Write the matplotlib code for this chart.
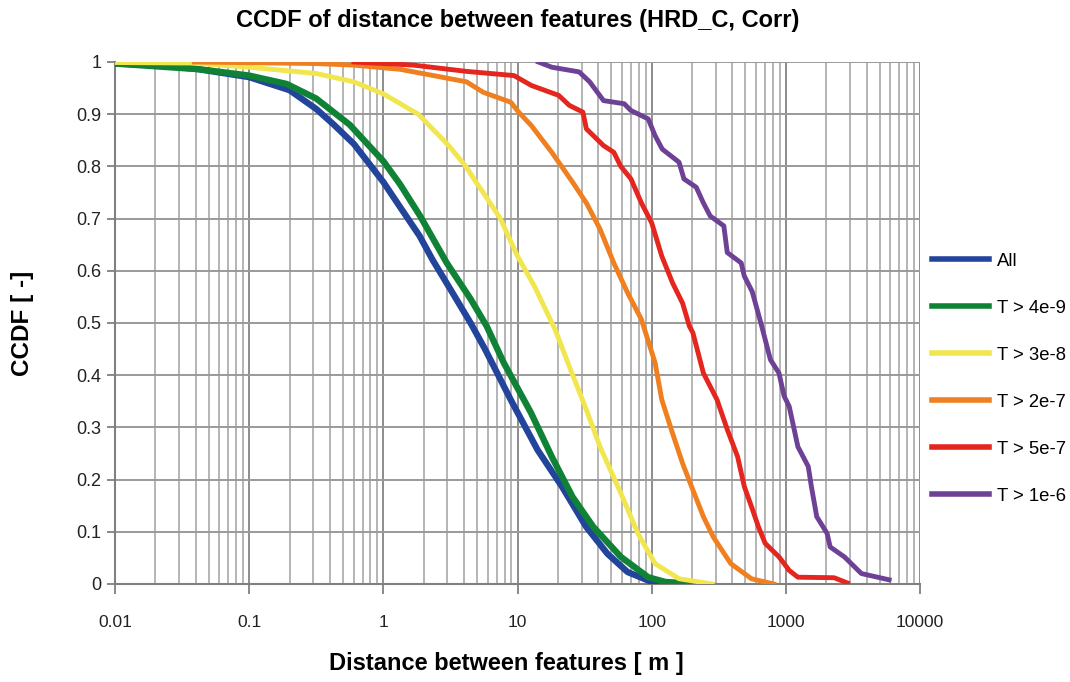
import matplotlib
matplotlib.use("Agg")
import matplotlib.pyplot as plt
from matplotlib.ticker import FixedLocator, LogLocator, FuncFormatter, NullFormatter

plt.rcParams['font.family'] = ['Liberation Sans', 'DejaVu Sans']

# distance [m] / CCDF pairs for each transmissivity threshold
all_d = [0.01, 0.02, 0.04, 0.1, 0.2, 0.316, 0.427, 0.603, 1.0, 1.35, 1.86, 2.34, 3.24,
         4.47, 5.75, 8.9, 14.1, 21.4, 32.4, 46.8, 66.1, 100, 200]
all_p = [0.997, 0.994, 0.987, 0.971, 0.946, 0.91, 0.88, 0.843, 0.77, 0.72, 0.667, 0.62, 0.56,
         0.50, 0.449, 0.353, 0.257, 0.187, 0.11, 0.058, 0.023, 0.004, 0.0]

t4e9_d = [0.01, 0.043, 0.1, 0.19, 0.316, 0.56, 1.0, 1.33, 1.88, 2.97, 4.47, 5.89, 7.89,
          12.6, 18.0, 25.7, 36.6, 58.9, 94.2, 126, 209]
t4e9_p = [0.997, 0.986, 0.974, 0.958, 0.93, 0.88, 0.81, 0.766, 0.705, 0.615, 0.546, 0.494, 0.424,
          0.328, 0.244, 0.167, 0.11, 0.052, 0.013, 0.004, 0.0]

t3e8_d = [0.01, 0.038, 0.1, 0.316, 0.603, 1.0, 1.82, 3.07, 4.12, 4.9, 5.55, 7.45, 10, 13.4,
          19.1, 24.3, 32.6, 41.2, 58.9, 78.9, 106, 160, 282]
t3e8_p = [0.999, 0.998, 0.99, 0.978, 0.962, 0.939, 0.90, 0.84, 0.80, 0.77, 0.75, 0.70, 0.628, 0.57,
          0.487, 0.417, 0.334, 0.263, 0.174, 0.097, 0.039, 0.01, 0.0]

t2e7_d = [0.039, 0.316, 0.603, 1.33, 2.36, 4.17, 5.55, 8.9, 10.2, 12.7, 18.0, 25.7, 32.6, 41.2,
          52.2, 66.1, 83.8, 106, 119, 143, 170, 203, 243, 288, 389, 555, 813]
t2e7_p = [1.0, 0.997, 0.994, 0.986, 0.974, 0.962, 0.942, 0.923, 0.904, 0.878, 0.827, 0.77, 0.73, 0.68,
          0.615, 0.558, 0.507, 0.424, 0.353, 0.289, 0.231, 0.18, 0.129, 0.09, 0.039, 0.01, 0.0]

t5e7_d = [0.603, 1.68, 4.17, 9.42, 12.7, 20.3, 24.3, 30.7, 32.6, 43.7, 52.2, 58.9, 70.1, 83.8,
          100, 119, 143, 170, 191, 203, 243, 307, 366, 437, 490, 555, 624, 701, 889, 1060,
          1230, 2290, 2880]
t5e7_p = [1.0, 0.994, 0.982, 0.974, 0.955, 0.936, 0.917, 0.904, 0.872, 0.84, 0.827, 0.80, 0.776, 0.73,
          0.692, 0.628, 0.577, 0.538, 0.494, 0.481, 0.404, 0.353, 0.296, 0.244, 0.187, 0.148, 0.11,
          0.078, 0.052, 0.026, 0.013, 0.012, 0.002]

t1e6_d = [14.3, 18.0, 28.8, 34.5, 43.8, 62.4, 70.1, 94.2, 106, 120, 160, 174, 215, 243, 273, 345,
          366, 465, 490, 562, 661, 767, 889, 971, 1060, 1230, 1470, 1550, 1700, 2030, 2140, 2730,
          3660, 5890]
t1e6_p = [1.0, 0.99, 0.981, 0.962, 0.926, 0.92, 0.907, 0.891, 0.859, 0.833, 0.808, 0.776, 0.76, 0.73,
          0.705, 0.686, 0.635, 0.615, 0.59, 0.56, 0.494, 0.43, 0.404, 0.36, 0.34, 0.263, 0.225, 0.187,
          0.129, 0.097, 0.071, 0.052, 0.02, 0.008]

labels = ['All', 'T > 4e-9', 'T > 3e-8', 'T > 2e-7', 'T > 5e-7', 'T > 1e-6']
colors = ['#22459b', '#0f8236', '#f1e64e', '#f07f1f', '#e5261e', '#6d4296']
widths = [4.6, 4.6, 3.5, 3.5, 3.5, 3.5]
series = [(all_d, all_p), (t4e9_d, t4e9_p), (t3e8_d, t3e8_p),
          (t2e7_d, t2e7_p), (t5e7_d, t5e7_p), (t1e6_d, t1e6_p)]

fig = plt.figure(figsize=(10.7, 6.82), dpi=100)
ax = fig.add_axes([0.1075, 0.1437, 0.7523, 0.7654])

for (d, p), lab, c, w in zip(series, labels, colors, widths):
    ax.plot(d, p, color=c, lw=w, label=lab, zorder=3)

ax.set_xscale('log')
ax.set_xlim(0.01, 10000)
ax.set_ylim(0, 1)

ax.xaxis.set_major_locator(FixedLocator([0.01, 0.1, 1, 10, 100, 1000, 10000]))
ax.xaxis.set_minor_locator(LogLocator(base=10, subs=range(2, 10), numticks=20))
ax.xaxis.set_major_formatter(FuncFormatter(lambda v, _: '%g' % v))
ax.xaxis.set_minor_formatter(NullFormatter())
ax.set_yticks([i / 10 for i in range(11)])
ax.yaxis.set_major_formatter(FuncFormatter(lambda v, _: '%g' % v))

ax.grid(True, which='major', axis='x', color='#8c8c8c', lw=1.4)
ax.grid(True, which='minor', axis='x', color='#b4b4b4', lw=1.4)
ax.grid(True, which='major', axis='y', color='#9a9a9a', lw=1.4)
ax.set_axisbelow(True)

for side in ['top', 'right']:
    ax.spines[side].set_visible(False)
for side in ['left', 'bottom']:
    ax.spines[side].set_color('#808080')
    ax.spines[side].set_linewidth(1.5)

ax.tick_params(axis='x', which='major', direction='out', length=7, width=1.3,
               color='#808080', pad=15, labelsize=12.5, labelcolor='#222222')
ax.tick_params(axis='x', which='minor', length=0)
ax.tick_params(axis='y', direction='out', length=6, width=1.3,
               color='#808080', pad=4, labelsize=13, labelcolor='#222222')

ax.set_title('CCDF of distance between features (HRD_C, Corr)',
             fontsize=17, fontweight='bold', pad=25)
ax.set_xlabel('Distance between features [ m ]', fontsize=17, fontweight='bold', labelpad=16)
ax.xaxis.label.set_x(0.486)
ax.set_ylabel('CCDF [ -]', fontsize=17.5, fontweight='bold', labelpad=30)

leg = ax.legend(loc='upper left', bbox_to_anchor=(0.864, 0.640), bbox_transform=fig.transFigure,
                frameon=False, fontsize=13.3, handlelength=3.1, handletextpad=0.4,
                labelspacing=1.62, borderaxespad=0)
for line in leg.get_lines():
    line.set_linewidth(4)

fig.savefig('out.png', dpi=100)
